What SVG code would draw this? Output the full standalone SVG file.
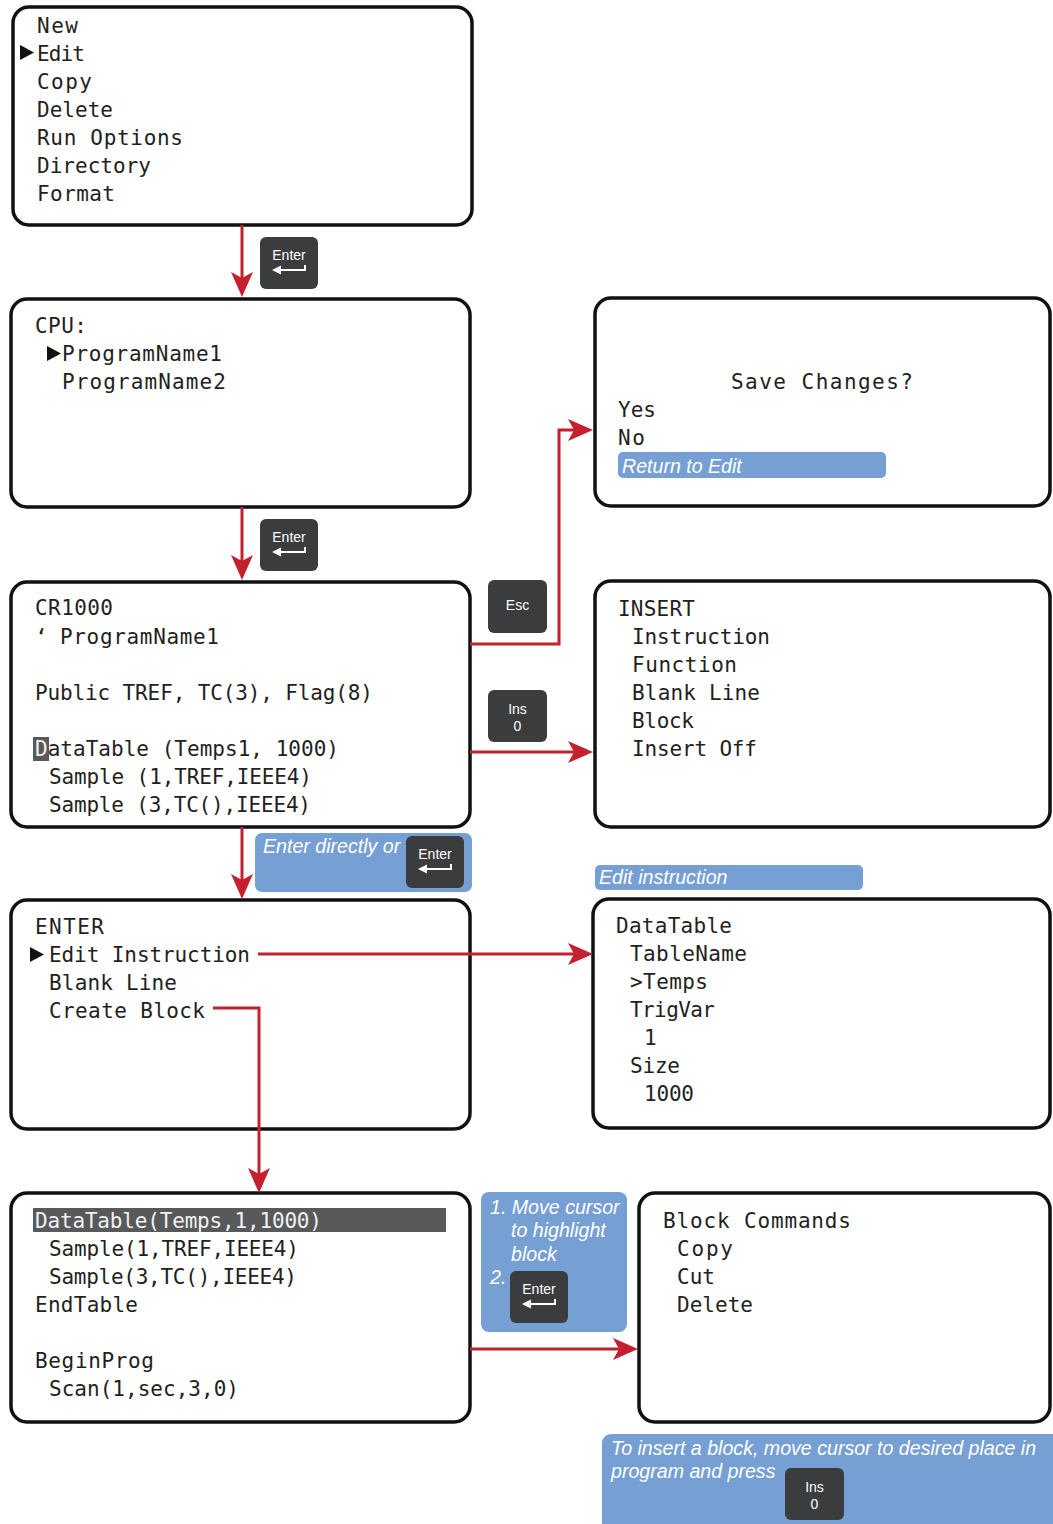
<svg xmlns="http://www.w3.org/2000/svg" xmlns:xlink="http://www.w3.org/1999/xlink" width="1053" height="1524" viewBox="0 0 1053 1524">
<style>
.scr{fill:#fff;stroke:#111;stroke-width:3.5}
.lcd{font-family:"DejaVu Sans Mono","Liberation Mono",monospace;font-size:21px;fill:#231f20}
.key{fill:#3b3c3d}
.kt{font-family:"Liberation Sans",Arial,sans-serif;font-size:14px;fill:#fff;text-anchor:middle}
.blue{fill:#769fd3}
.bt{font-family:"Liberation Sans",Arial,sans-serif;font-size:19.6px;font-style:italic;fill:#fff}
.con{fill:none;stroke:#c4202f;stroke-width:3;marker-end:url(#ah)}
.tri{fill:#111}
</style>
<defs>
<marker id="ah" markerUnits="userSpaceOnUse" viewBox="0 0 25 22" refX="17" refY="11" markerWidth="25" markerHeight="22" orient="auto">
<path d="M0,0 L25,11 L0,22 L6,11 z" fill="#c4202f"/>
</marker>
<g id="enterKey">
<rect class="key" x="0" y="0" width="58" height="52" rx="6"/>
<text class="kt" x="29" y="23">Enter</text>
<path d="M45,28 V33 H18" fill="none" stroke="#fff" stroke-width="2"/>
<path d="M12,33 L21,28.5 L21,37.5 z" fill="#fff"/>
</g>
<g id="insKey">
<rect class="key" x="0" y="0" width="59" height="52" rx="6"/>
<text class="kt" x="29.5" y="24">Ins</text>
<text class="kt" x="29.5" y="41">0</text>
</g>
</defs>

<g id="menu">
<rect class="scr" x="13" y="7" width="459" height="218" rx="16"/>
<path class="tri" d="M20,45 L34,52.5 L20,60 z"/>
<text class="lcd" x="37" y="33" textLength="41">New</text>
<text class="lcd" x="37" y="61" textLength="48">Edit</text>
<text class="lcd" x="37" y="89" textLength="55">Copy</text>
<text class="lcd" x="37" y="117" textLength="76">Delete</text>
<text class="lcd" x="37" y="145" textLength="146">Run Options</text>
<text class="lcd" x="37" y="173" textLength="114">Directory</text>
<text class="lcd" x="37" y="201" textLength="78">Format</text>
</g>

<g id="key-enter-1"><use xlink:href="#enterKey" x="260" y="237"/></g>

<g id="cpu">
<rect class="scr" x="11" y="299" width="459" height="208" rx="16"/>
<text class="lcd" x="35" y="333" textLength="52">CPU:</text>
<path class="tri" d="M47,346 L61,353.5 L47,361 z"/>
<text class="lcd" x="62" y="361" textLength="160">ProgramName1</text>
<text class="lcd" x="62" y="389" textLength="164">ProgramName2</text>
</g>

<g id="key-enter-2"><use xlink:href="#enterKey" x="260" y="519"/></g>

<g id="save">
<rect class="scr" x="595" y="298" width="455" height="208" rx="16"/>
<text class="lcd" x="731" y="389" textLength="182">Save Changes?</text>
<text class="lcd" x="618" y="417" textLength="38">Yes</text>
<text class="lcd" x="618" y="445" textLength="27">No</text>
<rect class="blue" x="618" y="452" width="268" height="26" rx="5"/>
<text class="bt" x="622" y="473">Return to Edit</text>
</g>

<g id="key-esc">
<rect class="key" x="488" y="580" width="59" height="53" rx="6"/>
<text class="kt" x="517.5" y="610">Esc</text>
</g>

<g id="key-ins-1"><use xlink:href="#insKey" x="488" y="690"/></g>

<g id="cr1000">
<rect class="scr" x="11" y="582" width="459" height="245" rx="16"/>
<text class="lcd" x="35" y="615" textLength="78">CR1000</text>
<text class="lcd" x="35" y="644">‘</text>
<text class="lcd" x="60" y="644" textLength="159">ProgramName1</text>
<text class="lcd" x="35" y="700" textLength="338">Public TREF, TC(3), Flag(8)</text>
<rect x="33" y="737" width="16" height="24" fill="#58595b"/>
<text class="lcd" x="35" y="756" textLength="304"><tspan fill="#f2f2f2">D</tspan>ataTable (Temps1, 1000)</text>
<text class="lcd" x="49" y="784" textLength="263">Sample (1,TREF,IEEE4)</text>
<text class="lcd" x="49" y="812" textLength="262">Sample (3,TC(),IEEE4)</text>
</g>

<g id="insert">
<rect class="scr" x="595" y="581" width="455" height="246" rx="16"/>
<text class="lcd" x="618" y="616" textLength="77">INSERT</text>
<text class="lcd" x="632" y="644" textLength="138">Instruction</text>
<text class="lcd" x="632" y="672" textLength="105">Function</text>
<text class="lcd" x="632" y="700" textLength="128">Blank Line</text>
<text class="lcd" x="632" y="728" textLength="62">Block</text>
<text class="lcd" x="632" y="756" textLength="125">Insert Off</text>
</g>

<g id="note-enter">
<rect class="blue" x="255" y="833" width="217" height="59" rx="7"/>
<text class="bt" x="263" y="853">Enter directly or</text>
<use xlink:href="#enterKey" x="406" y="836"/>
</g>

<g id="note-edit">
<rect class="blue" x="595" y="865" width="268" height="25" rx="5"/>
<text class="bt" x="599" y="884">Edit instruction</text>
</g>

<g id="enter">
<rect class="scr" x="11" y="900" width="459" height="229" rx="16"/>
<text class="lcd" x="35" y="934" textLength="69">ENTER</text>
<path class="tri" d="M30,947 L44,954.5 L30,962 z"/>
<text class="lcd" x="49" y="962" textLength="201">Edit Instruction</text>
<text class="lcd" x="49" y="990" textLength="128">Blank Line</text>
<text class="lcd" x="49" y="1018" textLength="156">Create Block</text>
</g>

<g id="datatable">
<rect class="scr" x="593" y="899" width="457" height="229" rx="16"/>
<text class="lcd" x="616" y="933" textLength="116">DataTable</text>
<text class="lcd" x="630" y="961" textLength="117">TableName</text>
<text class="lcd" x="630" y="989" textLength="78">&gt;Temps</text>
<text class="lcd" x="630" y="1017" textLength="85">TrigVar</text>
<text class="lcd" x="644" y="1045">1</text>
<text class="lcd" x="630" y="1073" textLength="50">Size</text>
<text class="lcd" x="644" y="1101" textLength="50">1000</text>
</g>

<g id="block">
<rect class="scr" x="11" y="1193" width="459" height="229" rx="16"/>
<rect x="33" y="1208" width="413" height="24" fill="#58595b"/>
<text class="lcd" x="35" y="1228" textLength="287" style="fill:#f2f2f2">DataTable(Temps,1,1000)</text>
<text class="lcd" x="49" y="1256" textLength="250">Sample(1,TREF,IEEE4)</text>
<text class="lcd" x="49" y="1284" textLength="248">Sample(3,TC(),IEEE4)</text>
<text class="lcd" x="35" y="1312" textLength="103">EndTable</text>
<text class="lcd" x="35" y="1368" textLength="119">BeginProg</text>
<text class="lcd" x="49" y="1396" textLength="190">Scan(1,sec,3,0)</text>
</g>

<g id="note-steps">
<rect class="blue" x="481" y="1192" width="146" height="140" rx="8"/>
<text class="bt" x="490" y="1214">1. Move cursor</text>
<text class="bt" x="511" y="1237">to highlight</text>
<text class="bt" x="511" y="1261">block</text>
<text class="bt" x="490" y="1284">2.</text>
<use xlink:href="#enterKey" x="510" y="1271"/>
</g>

<g id="block-commands">
<rect class="scr" x="639" y="1193" width="411" height="229" rx="16"/>
<text class="lcd" x="663" y="1228" textLength="188">Block Commands</text>
<text class="lcd" x="677" y="1256" textLength="56">Copy</text>
<text class="lcd" x="677" y="1284" textLength="38">Cut</text>
<text class="lcd" x="677" y="1312" textLength="76">Delete</text>
</g>

<g id="note-insert">
<rect class="blue" x="602" y="1434" width="460" height="100" rx="9"/>
<text class="bt" x="611" y="1455">To insert a block, move cursor to desired place in</text>
<text class="bt" x="611" y="1478">program and press</text>
<use xlink:href="#insKey" x="785" y="1468"/>
</g>

<g id="connectors">
<path class="con" d="M242,225 V289"/>
<path class="con" d="M242,507 V572"/>
<path class="con" d="M470,644 H559 V430 H585"/>
<path class="con" d="M470,752 H585"/>
<path class="con" d="M242,827 V891"/>
<path class="con" d="M258,954 H585"/>
<path class="con" d="M213,1008 H259 V1185"/>
<path class="con" d="M470,1349 H630"/>
</g>
</svg>
